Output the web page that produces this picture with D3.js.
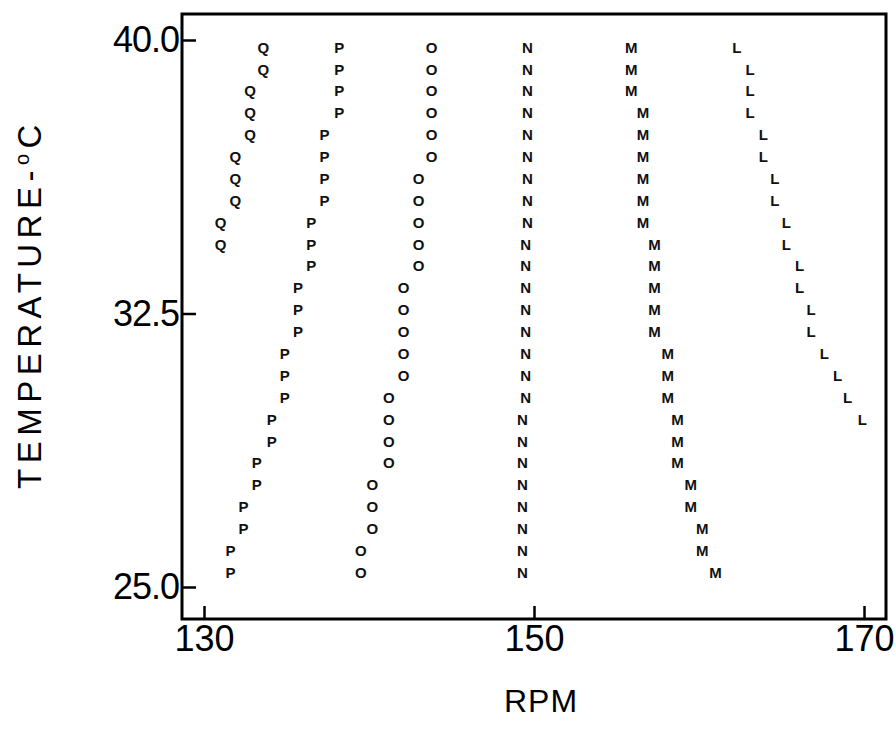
<!DOCTYPE html>
<html>
<head>
<meta charset="utf-8">
<script src="https://cdn.jsdelivr.net/npm/d3@7"></script>
<style>
  html, body { margin: 0; padding: 0; background: #fff; }
  svg { display: block; }
</style>
</head>
<body>
<svg id="chart" width="895" height="742"></svg>
<script>
// Temperature rows (°C), top to bottom
const temps = [39.8, 39.2, 38.6, 38.0, 37.4, 36.8, 36.2, 35.6, 35.0, 34.4, 33.8, 33.2, 32.6,
               32.0, 31.4, 30.8, 30.2, 29.6, 29.0, 28.4, 27.8, 27.2, 26.6, 26.0, 25.4];

// RPM per temperature row for each series (letter = series marker)
const rpmQ = [133.6, 133.6, 132.8, 132.8, 132.8, 131.9, 131.9, 131.9, 131.0, 131.0];
const rpmP = [138.2, 138.2, 138.2, 138.2, 137.3, 137.3, 137.3, 137.3, 136.5, 136.5, 136.5,
              135.7, 135.7, 135.7, 134.9, 134.9, 134.9, 134.1, 134.1, 133.2, 133.2, 132.4, 132.4,
              131.6, 131.6];
const rpmO = [143.8, 143.8, 143.8, 143.8, 143.8, 143.8, 143.0, 143.0, 143.0, 143.0, 143.0,
              142.1, 142.1, 142.1, 142.1, 142.1, 141.2, 141.2, 141.2, 141.2, 140.2, 140.2, 140.2,
              139.5, 139.5];
const rpmN = [149.6, 149.6, 149.6, 149.6, 149.6, 149.6, 149.6, 149.6, 149.6, 149.5, 149.5,
              149.5, 149.5, 149.5, 149.5, 149.5, 149.5, 149.3, 149.3, 149.3, 149.3, 149.3, 149.3,
              149.3, 149.3];
const rpmM = [155.9, 155.9, 155.9, 156.6, 156.6, 156.6, 156.6, 156.6, 156.6, 157.3, 157.3,
              157.3, 157.3, 157.3, 158.1, 158.1, 158.1, 158.7, 158.7, 158.7, 159.5, 159.5, 160.2,
              160.2, 161.0];
const rpmL = [162.3, 163.1, 163.1, 163.1, 163.9, 163.9, 164.6, 164.6, 165.3, 165.3, 166.1,
              166.1, 166.8, 166.8, 167.6, 168.4, 169.0, 169.9];

const seriesNames = ["Q", "P", "O", "N", "M", "L"];
const seriesValues = [rpmQ, rpmP, rpmO, rpmN, rpmM, rpmL];

const xTicks = [130, 150, 170];
const yTicks = [25.0, 32.5, 40.0];
const xTitle = "RPM";

// ---- layout
const svg = d3.select("#chart");
const frame = { left: 182, right: 886, top: 14, bottom: 619 };

const x = d3.scaleLinear().domain([130, 170]).range([204, 864]);
const y = d3.scaleLinear().domain([25, 40]).range([587, 40]);

svg.append("rect").attr("width", 895).attr("height", 742).attr("fill", "#fff");

// points as letters
const points = [];
seriesNames.forEach((name, si) => {
  seriesValues[si].forEach((v, i) => points.push({ name, rpm: v, t: temps[i] }));
});

svg.append("g")
  .selectAll("text")
  .data(points)
  .join("text")
  .attr("x", d => x(d.rpm))
  .attr("y", d => y(d.t))
  .attr("text-anchor", "middle")
  .attr("dy", "0.36em")
  .attr("font-family", "Liberation Sans, Arial, sans-serif")
  .attr("font-weight", "bold")
  .attr("font-size", 15)
  .attr("fill", "#111")
  .text(d => d.name);

// frame
svg.append("rect")
  .attr("x", frame.left).attr("y", frame.top)
  .attr("width", frame.right - frame.left)
  .attr("height", frame.bottom - frame.top)
  .attr("fill", "none")
  .attr("stroke", "#000")
  .attr("stroke-width", 3);

// axes
const fontFam = "Liberation Sans, Arial, sans-serif";

const yAxis = d3.axisLeft(y)
  .tickValues(yTicks)
  .tickFormat(d3.format(".1f"))
  .tickSizeInner(-14)
  .tickSizeOuter(0)
  .tickPadding(3);

const gy = svg.append("g").attr("transform", `translate(${frame.left},0)`).call(yAxis);
gy.select(".domain").remove();
gy.selectAll(".tick line").attr("stroke", "#000").attr("stroke-width", 2.5);
gy.selectAll(".tick text")
  .attr("font-family", fontFam)
  .attr("font-size", 36)
  .attr("letter-spacing", -1)
  .attr("fill", "#000");

const xAxis = d3.axisBottom(x)
  .tickValues(xTicks)
  .tickFormat(d3.format("d"))
  .tickSizeInner(-13)
  .tickSizeOuter(0)
  .tickPadding(6);

const gx = svg.append("g").attr("transform", `translate(0,${frame.bottom})`).call(xAxis);
gx.select(".domain").remove();
gx.selectAll(".tick line").attr("stroke", "#000").attr("stroke-width", 2.5);
gx.selectAll(".tick text")
  .attr("font-family", fontFam)
  .attr("font-size", 36)
  .attr("fill", "#000");

// axis titles
svg.append("text")
  .attr("x", 541).attr("y", 712)
  .attr("text-anchor", "middle")
  .attr("font-family", fontFam)
  .attr("font-size", 32)
  .attr("letter-spacing", 1)
  .attr("fill", "#000")
  .text(xTitle);

const yt = svg.append("text")
  .attr("transform", "translate(41,304) rotate(-90)")
  .attr("text-anchor", "middle")
  .attr("font-family", fontFam)
  .attr("font-size", 33)
  .attr("letter-spacing", 5.5)
  .attr("fill", "#000");
yt.append("tspan").text("TEMPERATURE-");
yt.append("tspan").attr("font-size", 20).attr("dy", -12).text("o");
yt.append("tspan").attr("dy", 12).text("C");
</script>
</body>
</html>
